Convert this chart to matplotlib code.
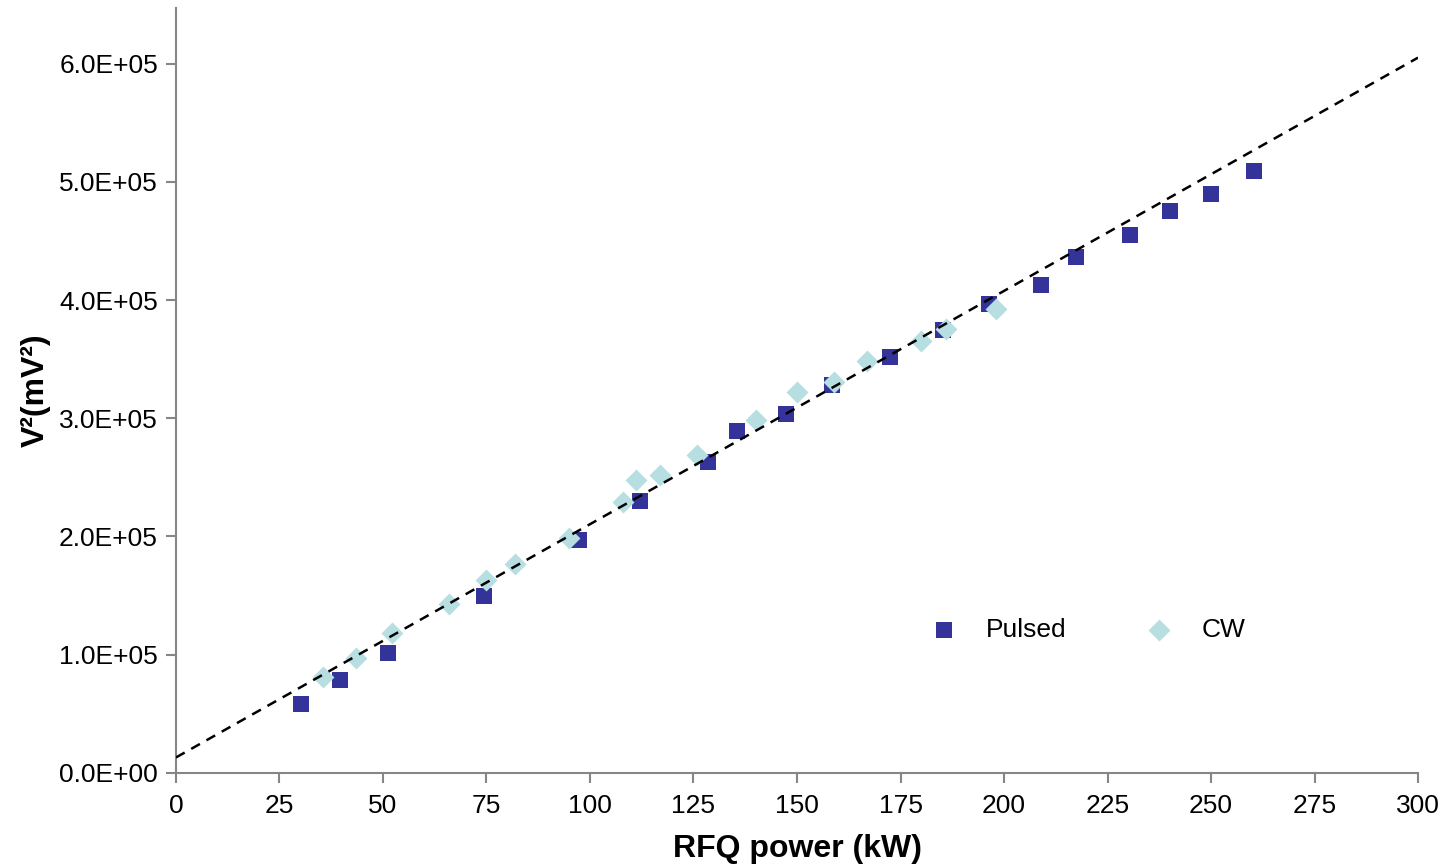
import numpy as np
import matplotlib.pyplot as plt
from matplotlib.ticker import FuncFormatter

plt.rcParams['font.family'] = ['Liberation Sans', 'DejaVu Sans']

# Pulsed measurements
pulsed_kw = [30.1, 39.7, 51.3, 74.4, 97.3, 112.1, 128.6, 135.6, 147.3, 158.5,
             172.5, 185.3, 196.4, 208.9, 217.4, 230.4, 240.2, 249.9, 260.4]
pulsed_v2 = [58300, 78600, 101200, 149600, 196900, 229900, 263100, 289300, 303400, 327900,
             351600, 375000, 396300, 413000, 436300, 455200, 474900, 489300, 509000]

# CW measurements
cw_kw = [35.6, 43.5, 52.2, 65.9, 75.0, 82.0, 94.9, 107.9, 111.0, 117.0,
         125.9, 140.0, 150.0, 158.9, 166.9, 180.0, 186.0, 198.0]
cw_v2 = [80900, 96900, 118100, 142800, 163100, 176400, 198300, 229300, 247600, 252400,
         268700, 298900, 322000, 330400, 348200, 365300, 375200, 392700]

# linear trendline
trend_slope = 1973.0
trend_intercept = 13100.0

fig = plt.figure(figsize=(14.47, 8.65), dpi=100)
ax = fig.add_axes([0.1216, 0.1064, 0.8584, 0.8844])

xt = np.array([0, 300])
ax.plot(xt, trend_intercept + trend_slope * xt, color='black', lw=1.8,
        dashes=(4, 3), zorder=3)
ax.scatter(pulsed_kw, pulsed_v2, marker='s', s=135, color='#333399',
           label='Pulsed', zorder=2, linewidths=0)
ax.scatter(cw_kw, cw_v2, marker='D', s=125, color='#B7DEE0',
           label='CW', zorder=2, linewidths=0)

ax.set_xlim(0, 300)
ax.set_ylim(0, 6.47e5)
ax.set_xticks(np.arange(0, 301, 25))
ax.set_yticks(np.arange(0, 6.01e5, 1e5))
ax.yaxis.set_major_formatter(FuncFormatter(lambda v, p: '%.1E' % v))

for s in ['top', 'right']:
    ax.spines[s].set_visible(False)
for s in ['left', 'bottom']:
    ax.spines[s].set_color('#868686')
    ax.spines[s].set_linewidth(1.5)
ax.tick_params(direction='out', length=7, width=1.5, color='#868686',
               labelsize=19, pad=6)
ax.tick_params(axis='x', pad=8)

ax.set_xlabel('RFQ power (kW)', fontsize=23, fontweight='bold', labelpad=12)
ax.set_ylabel('V²(mV²)', fontsize=23, fontweight='bold', labelpad=6)

ax.legend(loc='center', bbox_to_anchor=(0.729, 0.187), ncol=2, frameon=False,
          fontsize=19, handlelength=2.0, handletextpad=0.6, columnspacing=2.5,
          scatterpoints=1)

fig.savefig('out.png', dpi=100)
